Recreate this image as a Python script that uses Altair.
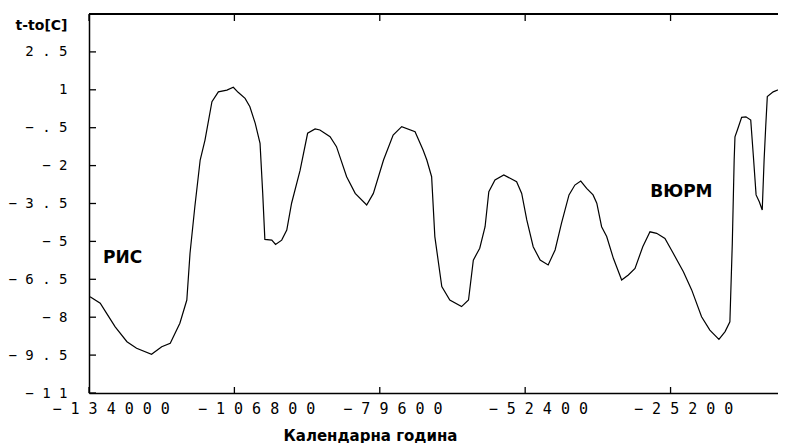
import altair as alt
import pandas as pd

# Calendar year (x) and temperature anomaly t-to [C] (y)
years = [-133800, -131900, -130700, -129100, -126900, -125100, -122300, -120400,
         -118800, -117000, -115700, -115100, -114200, -113200, -112300, -111000,
         -109800, -108200, -107000, -106100, -104800, -103900, -102900, -102000,
         -101500, -101100, -99800, -99100, -97950, -97000, -96100, -94500,
         -93100, -91700, -90800, -88900, -87700, -85800, -84200, -82050,
         -80800, -78900, -77100, -75500, -73000, -71500, -70800, -69900,
         -69300, -68000, -66500, -64300, -63000, -62100, -60900, -59900,
         -59200, -58050, -56400, -54000, -53050, -52100, -50900, -49600,
         -48100, -46800, -45600, -44200, -43100, -42000, -40900, -39700,
         -39000, -38100, -37150, -35900, -34350, -33100, -31850, -30400,
         -29050, -27800, -26250, -24700, -22800, -21250, -19400, -17850,
         -16150, -15000, -14100, -13650, -13300, -13150, -12700, -11900,
         -11100, -10200, -9700, -9200, -8600, -8050, -7700, -7400,
         -7100, -6000, -4100, -3600]
temps = [-7.19, -7.45, -7.85, -8.38, -8.97, -9.23, -9.47, -9.17,
         -9.03, -8.24, -7.32, -5.47, -3.63, -1.78, -0.99, 0.53,
         0.92, 0.99, 1.10, 0.90, 0.66, 0.33, -0.33, -1.12,
         -3.10, -4.92, -4.95, -5.12, -4.95, -4.55, -3.49, -2.18,
         -0.72, -0.55, -0.59, -0.86, -1.25, -2.44, -3.10, -3.56,
         -3.10, -1.78, -0.79, -0.46, -0.66, -1.38, -1.78, -2.44,
         -4.81, -6.79, -7.32, -7.58, -7.32, -5.74, -5.27, -4.42,
         -3.03, -2.57, -2.37, -2.64, -3.10, -4.15, -5.21, -5.74,
         -5.93, -5.34, -4.28, -3.16, -2.77, -2.61, -2.90, -3.16,
         -3.49, -4.42, -4.81, -5.67, -6.53, -6.33, -6.07, -5.21,
         -4.62, -4.68, -4.88, -5.47, -6.20, -6.92, -7.98, -8.51,
         -8.88, -8.57, -8.18, -5.08, -1.78, -0.86, -0.59, -0.09,
         -0.07, -0.20, -1.65, -3.16, -3.43, -3.76, -1.78, -0.46,
         0.73, 0.92, 1.08, 0.99]

x_ticks = [-134000, -106800, -79600, -52400, -25200]
y_ticks = [2.5, 1, -0.5, -2, -3.5, -5, -6.5, -8, -9.5, -11]

ann_text = ["РИС", "ВЮРМ"]
ann_x = [-131380, -29000]
ann_y = [-5.64, -3.03]

X_DOMAIN = [-134000, -5100]
Y_DOMAIN = [-11, 4]
W, H = 689, 379

df = pd.DataFrame({"year": years, "t": temps})
xt = pd.DataFrame({"v": x_ticks})
yt = pd.DataFrame({"v": y_ticks})
ann = pd.DataFrame({"label": ann_text, "x": ann_x, "y": ann_y})

spaced = ("join(split(replace(replace(toString(datum.value), '-0.', '-.'), '-', '\u2212'), ''), ' ')")

xscale = alt.Scale(domain=X_DOMAIN, nice=False, zero=False)
yscale = alt.Scale(domain=Y_DOMAIN, nice=False, zero=False)

line = alt.Chart(df).mark_line(color="black", strokeWidth=1.2, clip=True).encode(
    x=alt.X("year:Q", scale=xscale,
            axis=alt.Axis(values=x_ticks, labelExpr=spaced, grid=False,
                          ticks=False, tickSize=0, domainColor="black",
                          domainWidth=1.5, labelFont="DejaVu Sans Mono",
                          labelFontSize=15, labelColor="black",
                          labelAlign="left", labelOffset=-37,
                          labelBaseline="top", labelPadding=8,
                          labelOverlap=False, labelFlush=False,
                          title="Календарна година", titleFont="DejaVu Sans",
                          titleFontWeight="bold", titleFontSize=15,
                          titleColor="black", titleX=281, titleY=42,
                          titleAlign="center", titleBaseline="middle",
                          titleAnchor="start")),
    y=alt.Y("t:Q", scale=yscale,
            axis=alt.Axis(values=y_ticks, labelExpr=spaced, grid=False,
                          ticks=False, tickSize=0, domainColor="black",
                          domainWidth=1.5, labelFont="DejaVu Sans Mono",
                          labelFontSize=14, labelColor="black",
                          labelAlign="right", labelBaseline="middle",
                          labelPadding=22, labelOverlap=False, labelFlush=False,
                          title="t-to[C]", titleFont="DejaVu Sans",
                          titleFontWeight="bold", titleFontSize=14,
                          titleColor="black", titleAngle=0, titleX=-48,
                          titleY=11, titleAlign="center",
                          titleBaseline="middle", titleAnchor="start")),
)

ytick_marks = alt.Chart(yt).mark_rule(color="black", strokeWidth=1.3).encode(
    y=alt.Y("v:Q", scale=yscale), x=alt.value(0), x2=alt.value(7))
xtick_bottom = alt.Chart(xt).mark_rule(color="black", strokeWidth=1.3).encode(
    x=alt.X("v:Q", scale=xscale), y=alt.value(H - 6), y2=alt.value(H))
xtick_top = alt.Chart(xt).mark_rule(color="black", strokeWidth=1.3).encode(
    x=alt.X("v:Q", scale=xscale), y=alt.value(0), y2=alt.value(7))
top_border = alt.Chart(xt).mark_rule(color="black", strokeWidth=1.5).encode(
    y=alt.value(0), x=alt.value(0), x2=alt.value(W))

labels = alt.Chart(ann).mark_text(font="DejaVu Sans", fontWeight="bold",
                                  fontSize=17, align="left", baseline="middle",
                                  color="black").encode(
    x=alt.X("x:Q", scale=xscale), y=alt.Y("y:Q", scale=yscale), text="label:N")

chart = alt.layer(line, ytick_marks, xtick_bottom, xtick_top, top_border, labels).properties(
    width=W, height=H,
    autosize=alt.AutoSizeParams(type="none"),
    padding={"left": 81, "top": 6, "right": 0, "bottom": 50},
    background="white",
).configure_view(stroke=None)

chart.save("out.html", embed_options={"renderer": "svg", "actions": False})
